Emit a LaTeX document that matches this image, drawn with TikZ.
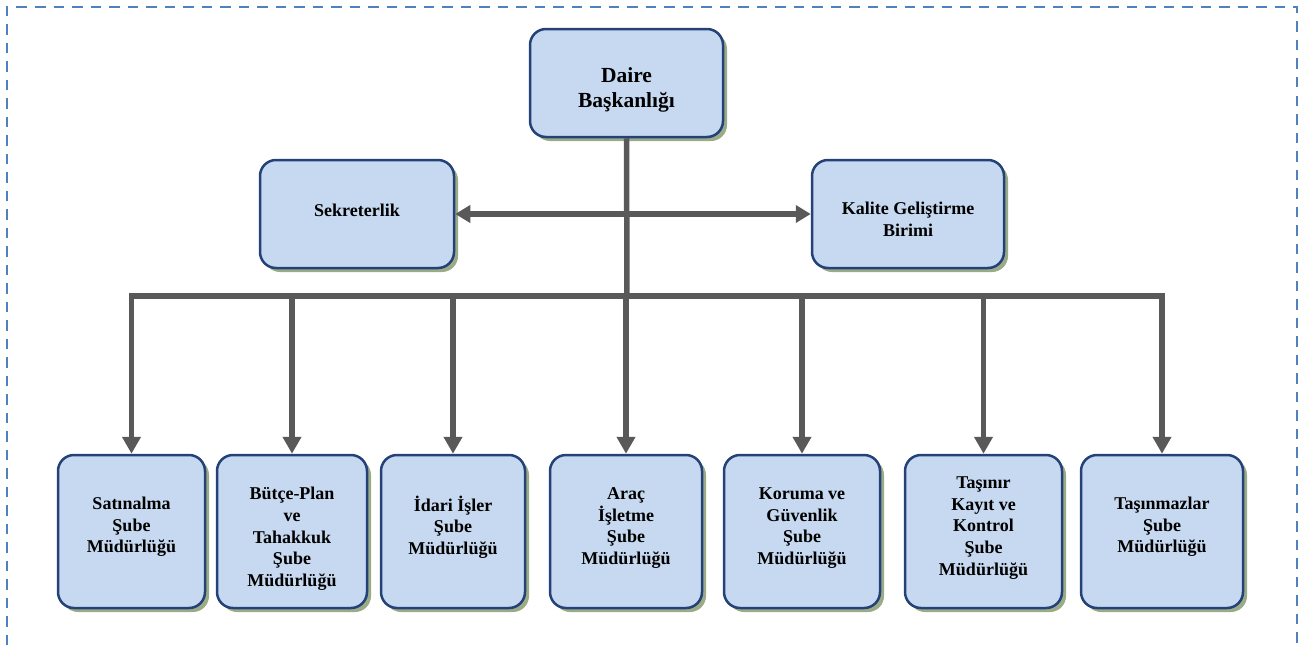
\documentclass[tikz,border=0pt]{standalone}
\usepackage{fontspec}
\setmainfont{Liberation Serif}
\usetikzlibrary{arrows.meta,shadows}
\definecolor{bordc}{RGB}{79,129,189}
\definecolor{boxfill}{RGB}{198,217,240}
\definecolor{boxline}{RGB}{36,66,120}
\definecolor{shad}{RGB}{155,170,135}
\definecolor{connc}{RGB}{89,89,89}
\begin{document}
\begin{tikzpicture}[x=1pt,y=-1pt,
  box/.style={draw=boxline, line width=2.5pt, fill=boxfill, rounded corners=16pt, inner sep=0pt,
    drop shadow={shadow xshift=4pt, shadow yshift=-4pt, fill=shad, opacity=1}},
  topbox/.style={box, minimum height=108pt},
  lowbox/.style={box, minimum height=153pt},
  txt/.style={font=\bfseries\fontsize{18}{21.7}\selectfont, align=center, inner sep=0pt},
  bigtxt/.style={font=\bfseries\fontsize{21.5}{25}\selectfont, align=center, inner sep=0pt},
  conn/.style={draw=connc, line width=5.5pt, line join=miter},
  down/.style={conn, -{Triangle[length=17pt,width=18pt]}},
  both/.style={conn, line width=6pt, {Triangle[length=15pt,width=17pt]}-{Triangle[length=15pt,width=17pt]}},
  frame/.style={draw=bordc, line width=2.5pt, dash pattern=on 10.5pt off 8pt}
]
\useasboundingbox (0,0) rectangle (1311,645);
% frame
\coordinate (f1) at (7,645);
\coordinate (f2) at (7,7);
\coordinate (f3) at (1297,7);
\coordinate (f4) at (1297,645);
\draw[frame] (f1) -- (f2) -- (f3) -- (f4);

% boxes
\node[topbox, minimum width=193pt] (daire) at (626.5,83) {};
\node[topbox, minimum width=194pt] (sek) at (357,214) {};
\node[topbox, minimum width=192pt] (kal) at (908,214) {};

\node[lowbox, minimum width=147pt] (b1) at (131.5,531.5) {};
\node[lowbox, minimum width=150pt] (b2) at (292,531.5) {};
\node[lowbox, minimum width=144pt] (b3) at (453,531.5) {};
\node[lowbox, minimum width=152pt] (b4) at (626,531.5) {};
\node[lowbox, minimum width=156pt] (b5) at (802,531.5) {};
\node[lowbox, minimum width=157pt] (b6) at (983.5,531.5) {};
\node[lowbox, minimum width=162pt] (b7) at (1162,531.5) {};

% texts
\node[bigtxt] (td) at (626.5,90) {Daire\\Başkanlığı};
\node[txt] (ts) at (357,210) {Sekreterlik};
\node[txt] (tk) at (908,219) {Kalite Geliştirme\\Birimi};
\node[txt] (t1) at (131.5,527) {Satınalma\\Şube\\Müdürlüğü};
\node[txt] (t2) at (292,539) {Bütçe-Plan\\ve\\Tahakkuk\\Şube\\Müdürlüğü};
\node[txt] (t3) at (453,527) {İdari İşler\\Şube\\Müdürlüğü};
\node[txt] (t4) at (626,528) {Araç\\İşletme\\Şube\\Müdürlüğü};
\node[txt] (t5) at (802,528) {Koruma ve\\Güvenlik\\Şube\\Müdürlüğü};
\node[txt] (t6) at (983.5,528) {Taşınır\\Kayıt ve\\Kontrol\\Şube\\Müdürlüğü};
\node[txt] (t7) at (1162,527) {Taşınmazlar\\Şube\\Müdürlüğü};

% connectors
\coordinate (bus) at (627,296);
\draw[conn] (daire.south) -- (bus);
\draw[both] (sek.east) -- (kal.west);
\foreach \b in {b1,b2,b3,b4,b5,b6,b7}
  \draw[down] (bus) -| (\b.north);
\end{tikzpicture}
\end{document}
